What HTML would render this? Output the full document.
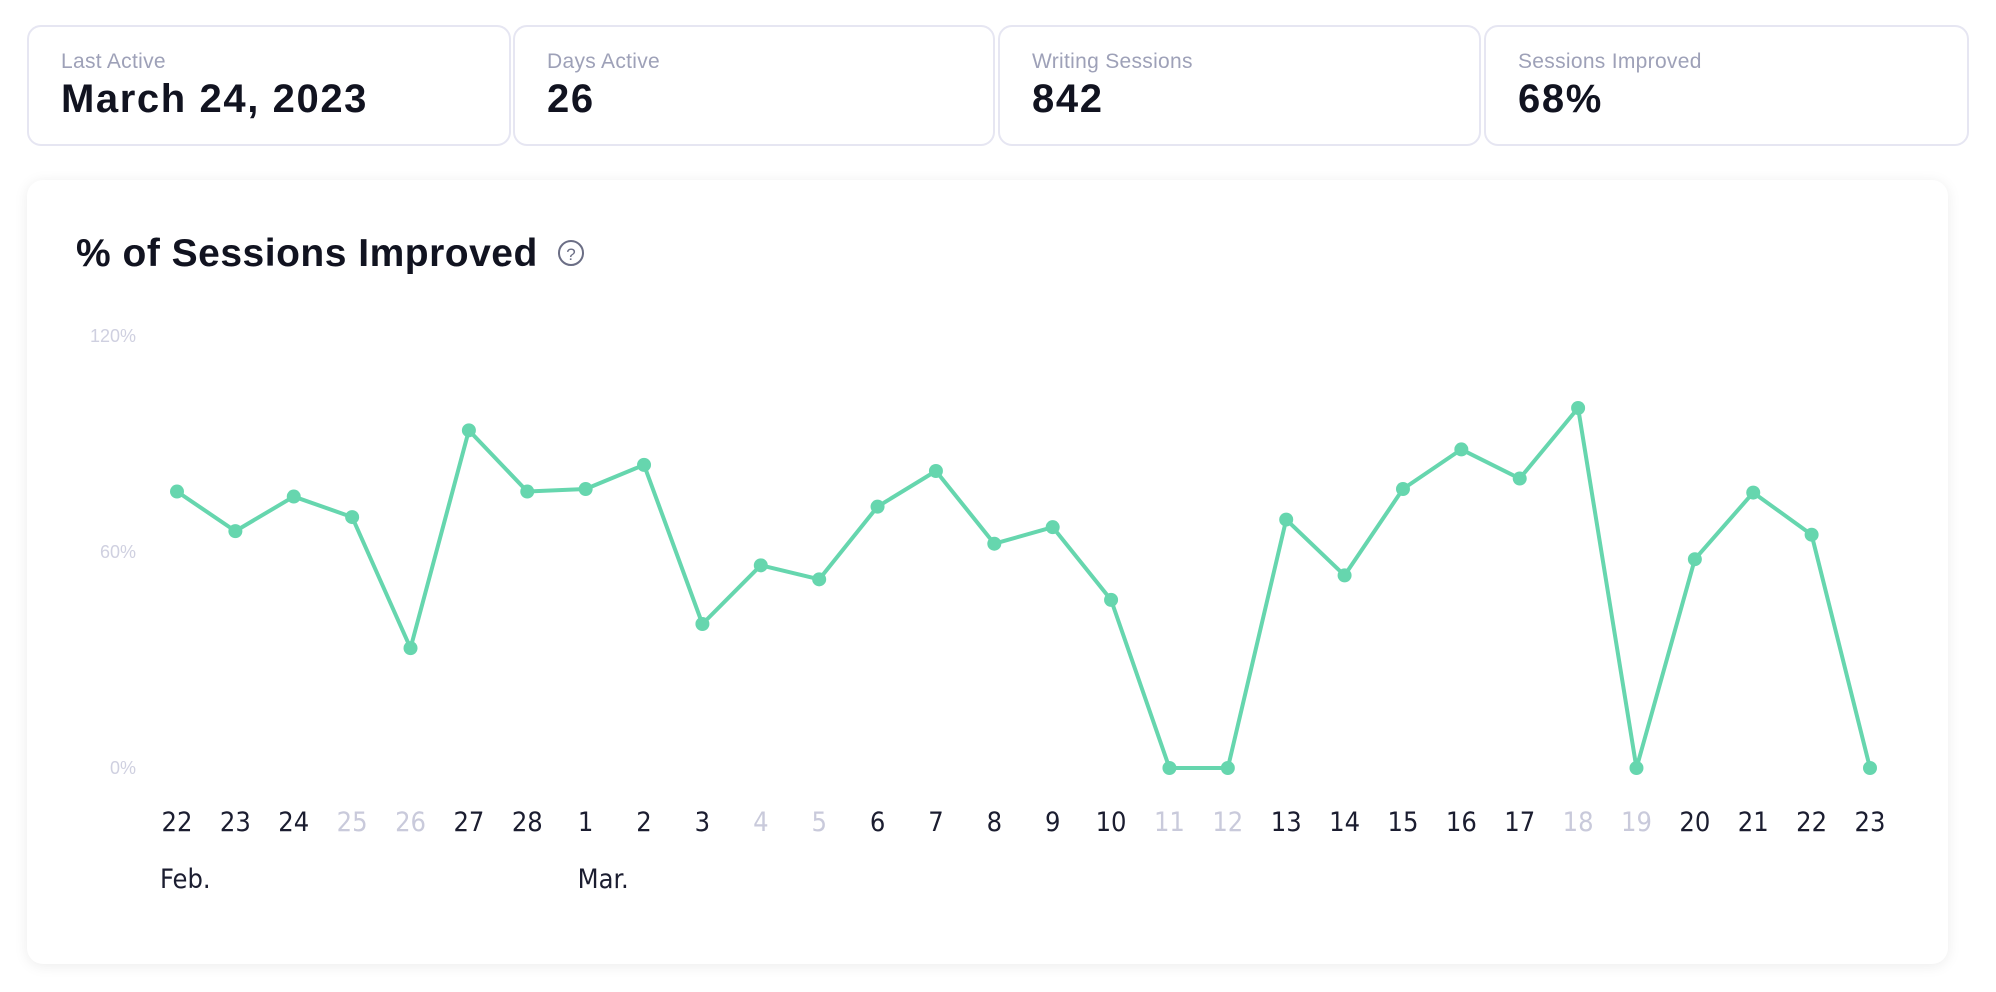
<!DOCTYPE html>
<html><head><meta charset="utf-8"><style>
body{margin:0;width:1996px;height:992px;background:#fff;font-family:"Liberation Sans",sans-serif;position:relative;overflow:hidden}
.card{position:absolute;top:25px;height:121px;border:2px solid #e6e6f2;border-radius:14px;box-sizing:border-box;background:#fff}
.lbl{position:absolute;left:32px;top:23px;font-size:21px;letter-spacing:0.3px;color:#9ea1b8}
.val{position:absolute;left:32px;top:50px;font-size:40px;letter-spacing:1.6px;font-weight:bold;color:#111320}
.main{position:absolute;left:27px;top:180px;width:1921px;height:784px;border-radius:16px;background:#fff;box-shadow:0 2px 14px rgba(0,0,0,0.08)}
</style></head><body>
<div class="card" style="left:27px;width:484px"><div class="lbl">Last Active</div><div class="val">March 24, 2023</div></div>
<div class="card" style="left:513px;width:482px"><div class="lbl">Days Active</div><div class="val">26</div></div>
<div class="card" style="left:998px;width:483px"><div class="lbl">Writing Sessions</div><div class="val">842</div></div>
<div class="card" style="left:1484px;width:485px"><div class="lbl">Sessions Improved</div><div class="val">68%</div></div>
<div class="main"></div>
<svg id="chart" width="1996" height="992" style="position:absolute;left:0;top:0">
<text x="76" y="266" font-size="39" font-weight="bold" letter-spacing="0.5" fill="#111320" font-family="Liberation Sans, sans-serif">% of Sessions Improved</text>
<g><circle cx="571" cy="253" r="12" fill="none" stroke="#6b6e85" stroke-width="2"/><text x="571" y="260" font-size="17" text-anchor="middle" fill="#6b6e85" font-family="Liberation Sans, sans-serif">?</text></g>
</svg>
<script>
const days=["22","23","24","25","26","27","28","1","2","3","4","5","6","7","8","9","10","11","12","13","14","15","16","17","18","19","20","21","22","23"];
const values=[76.8,65.8,75.4,69.7,33.3,93.8,76.8,77.5,84.2,40,56.3,52.4,72.6,82.5,62.3,66.9,46.7,0,0,69,53.5,77.5,88.5,80.4,100,0,58,76.5,64.8,0];
const inactive=[0,0,0,1,1,0,0,0,0,0,1,1,0,0,0,0,0,1,1,0,0,0,0,0,1,1,0,0,0,0];
const yTicks=[0,60,120];
const yTickLabels=["0%","60%","120%"];
const months=[{i:0,label:"Feb."},{i:7,label:"Mar."}];
const svg=document.getElementById('chart');const NS='http://www.w3.org/2000/svg';
const x0=177,x1=1870,y0=768,y1=336,yMax=120;
const xs=i=>x0+i*(x1-x0)/(days.length-1);
const ys=v=>y0-(v/yMax)*(y0-y1);
function mk(t,a){const e=document.createElementNS(NS,t);for(const k in a)e.setAttribute(k,a[k]);svg.appendChild(e);return e;}
yTicks.forEach((v,i)=>{const t=mk('text',{x:136,y:ys(v)+6,'font-size':18,'text-anchor':'end',fill:'#cfd0e0','font-family':'Liberation Sans, sans-serif'});t.textContent=yTickLabels[i];

});
days.forEach((d,i)=>{const t=mk('text',{x:xs(i),y:831,'font-size':27,'text-anchor':'middle',fill:inactive[i]?'#c9cadb':'#1b1d30','font-family':'DejaVu Sans Condensed, Liberation Sans, sans-serif'});t.textContent=d;

});
months.forEach(m=>{const t=mk('text',{x:xs(m.i)-(m.i?8:17),y:888,'font-size':27,fill:'#1b1d30','font-family':'DejaVu Sans Condensed, Liberation Sans, sans-serif'});t.textContent=m.label;

});
const line=mk('polyline',{points:values.map((v,i)=>xs(i)+','+ys(v)).join(' '),fill:'none',stroke:'#66d6ae','stroke-width':4,'stroke-linejoin':'round'});


values.forEach((v,i)=>{const c=mk('circle',{cx:xs(i),cy:ys(v),r:7,fill:'#66d6ae'});

});
</script>
</body></html>
